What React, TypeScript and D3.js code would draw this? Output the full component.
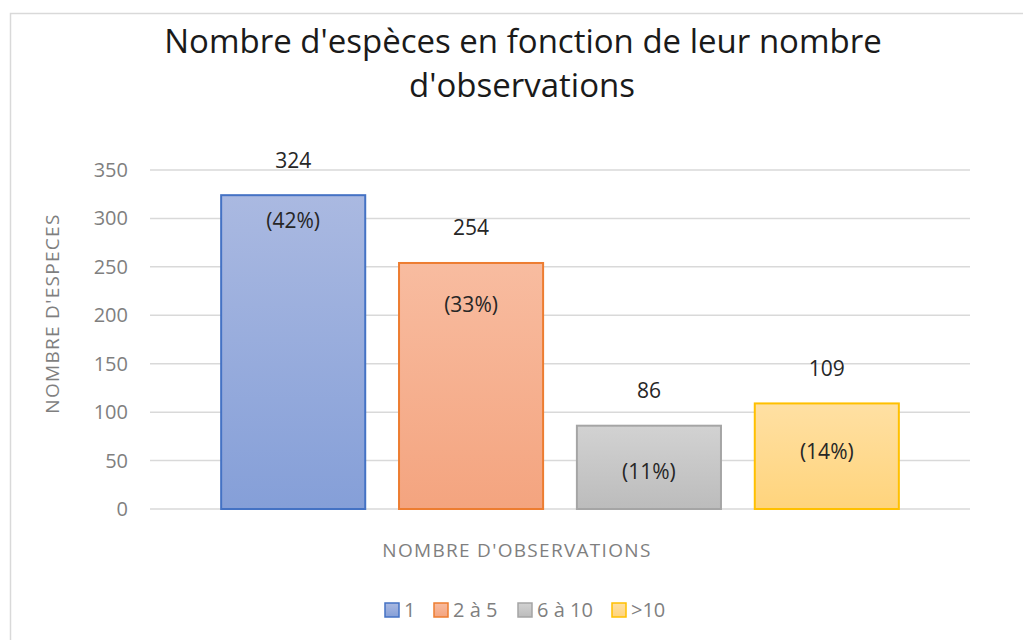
import React from "react";
import * as d3 from "d3";

// one category, four series (as in the workbook)
const seriesNames = ["1", "2 à 5", "6 à 10", ">10"];
const speciesCounts = [324, 254, 86, 109];
const shareLabels = ["(42%)", "(33%)", "(11%)", "(14%)"];
const yTicks = [0, 50, 100, 150, 200, 250, 300, 350];

const strokeColors = ["#4472c4", "#ed7d31", "#a5a5a5", "#ffc000"];
const fillTop = ["#aab9e1", "#f8bca0", "#d2d2d2", "#ffe0a3"];
const fillBottom = ["#859fd8", "#f4a47f", "#bcbcbc", "#ffd47c"];

// where the percentage label sits below each bar top (px)
const shareDy = [25, 42, 46, 48];

const FONT = "'Open Sans', 'Noto Sans', sans-serif";

export default function App() {
    const width = 1023;
    const height = 640;
    const plot = { left: 150, right: 970, top: 170, bottom: 509 };

    const x = d3
        .scaleBand<string>()
        .domain(seriesNames)
        .range([plot.left, plot.right])
        .paddingInner(0.19)
        .paddingOuter(0.4);

    const y = d3
        .scaleLinear()
        .domain([0, 350])
        .range([plot.bottom, plot.top]);

    const legendX = [385, 434, 518, 612];

    return (
        <svg
            width={width}
            height={height}
            style={{ position: "absolute", left: 0, top: 0, background: "#fff" }}
            fontFamily={FONT}
        >
            <defs>
                {seriesNames.map((_, i) => (
                    <linearGradient key={i} id={`g${i}`} x1="0" y1="0" x2="0" y2="1">
                        <stop offset="0%" stopColor={fillTop[i]} />
                        <stop offset="100%" stopColor={fillBottom[i]} />
                    </linearGradient>
                ))}
            </defs>

            <rect x={10.5} y={13.5} width={1100} height={700} fill="#fff" stroke="#d9d9d9" strokeWidth={1.5} />

            <text x={523} y={53} textAnchor="middle" fontSize={33} fill="#1a1a1a">
                Nombre d'espèces en fonction de leur nombre
            </text>
            <text x={522} y={97} textAnchor="middle" fontSize={33} fill="#1a1a1a">
                d'observations
            </text>

            {yTicks.map((t) => (
                <g key={t}>
                    <line x1={plot.left} x2={plot.right} y1={y(t)} y2={y(t)} stroke="#d9d9d9" strokeWidth={1.5} />
                    <text x={128} y={y(t)} dy="0.35em" textAnchor="end" fontSize={20} fill="#7f7f7f">
                        {t}
                    </text>
                </g>
            ))}

            {seriesNames.map((s, i) => {
                const bx = x(s) ?? 0;
                const by = y(speciesCounts[i]);
                const bw = x.bandwidth();
                return (
                    <g key={s}>
                        <rect
                            x={bx}
                            y={by}
                            width={bw}
                            height={y(0) - by}
                            fill={`url(#g${i})`}
                            stroke={strokeColors[i]}
                            strokeWidth={2}
                        />
                        <text x={bx + bw / 2} y={by - 35} dy="0.35em" textAnchor="middle" fontSize={21} fill="#262626">
                            {speciesCounts[i]}
                        </text>
                        <text x={bx + bw / 2} y={by + shareDy[i]} dy="0.35em" textAnchor="middle" fontSize={21} fill="#262626">
                            {shareLabels[i]}
                        </text>
                    </g>
                );
            })}

            <text
                transform={`translate(52, ${(plot.top + plot.bottom) / 2 - 26}) rotate(-90)`}
                textAnchor="middle"
                dy="0.35em"
                fontSize={19}
                letterSpacing={1.3}
                fill="#7f7f7f"
            >
                NOMBRE D'ESPECES
            </text>
            <text x={517} y={550} dy="0.35em" textAnchor="middle" fontSize={19} letterSpacing={1.3} fill="#7f7f7f">
                NOMBRE D'OBSERVATIONS
            </text>

            {seriesNames.map((s, i) => (
                <g key={`leg${i}`}>
                    <rect
                        x={legendX[i]}
                        y={603}
                        width={14}
                        height={14}
                        fill={`url(#g${i})`}
                        stroke={strokeColors[i]}
                        strokeWidth={1.5}
                    />
                    <text x={legendX[i] + 19} y={610} dy="0.35em" fontSize={20} fill="#7f7f7f">
                        {s}
                    </text>
                </g>
            ))}
        </svg>
    );
}
